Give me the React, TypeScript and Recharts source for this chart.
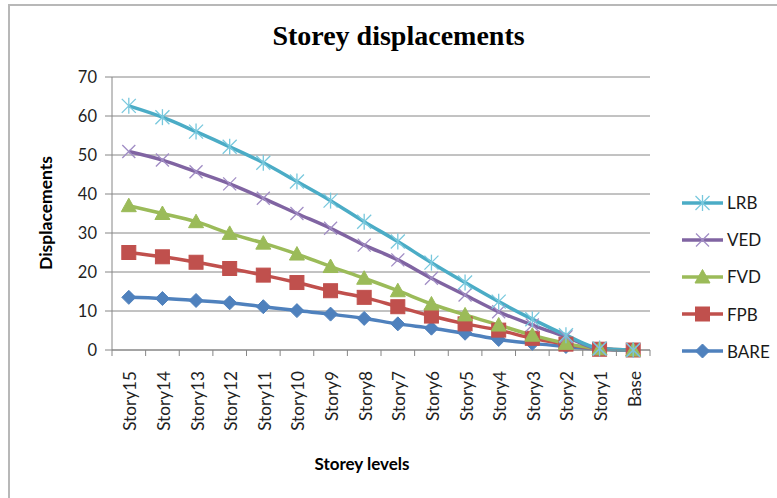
import React from 'react';
import { LineChart, Line, XAxis, YAxis, CartesianGrid } from 'recharts';

const categories = ['Story15', 'Story14', 'Story13', 'Story12', 'Story11', 'Story10', 'Story9', 'Story8', 'Story7', 'Story6', 'Story5', 'Story4', 'Story3', 'Story2', 'Story1', 'Base'];
const lrb = [62.6, 59.7, 56.0, 52.1, 48.0, 43.2, 38.3, 32.9, 27.8, 22.4, 17.3, 12.4, 7.9, 3.8, 0.4, 0];
const ved = [50.9, 48.7, 45.7, 42.6, 38.9, 35.0, 31.2, 26.9, 23.1, 18.4, 14.1, 9.8, 6.4, 3.4, 0.3, 0];
const fvd = [37.0, 35.0, 32.9, 29.9, 27.4, 24.6, 21.4, 18.4, 15.2, 11.8, 9.0, 6.4, 3.8, 1.7, 0.3, 0];
const fpb = [25.0, 23.9, 22.5, 20.9, 19.2, 17.3, 15.2, 13.5, 11.1, 8.7, 6.7, 5.1, 3.0, 1.5, 0.2, 0];
const bare = [13.5, 13.2, 12.7, 12.1, 11.1, 10.1, 9.2, 8.1, 6.7, 5.6, 4.3, 2.7, 1.7, 0.9, 0.2, 0];
const yTicks = [0, 10, 20, 30, 40, 50, 60, 70];

const data = categories.map((c, i) => ({
  name: c,
  LRB: lrb[i],
  VED: ved[i],
  FVD: fvd[i],
  FPB: fpb[i],
  BARE: bare[i],
}));

const FONT = 'Lato, "Open Sans", sans-serif';
const GRID = '#868686';
const HALF_STEP = 16.8;

const C = {
  LRB: '#4BACC6',
  VED: '#8064A2',
  FVD: '#9BBB59',
  FPB: '#C0504D',
  BARE: '#4F81BD',
};

type MarkerKind = 'star' | 'x' | 'tri' | 'sq' | 'dia';

const Marker = ({ kind, cx, cy }: { kind: MarkerKind; cx: number; cy: number }) => {
  if (kind === 'dia') {
    const r = 7;
    return <path d={`M${cx},${cy - r}L${cx + r},${cy}L${cx},${cy + r}L${cx - r},${cy}Z`} fill={C.BARE} stroke={C.BARE} strokeWidth={1} />;
  }
  if (kind === 'sq') {
    const r = 7;
    return <rect x={cx - r} y={cy - r} width={2 * r} height={2 * r} fill={C.FPB} stroke={C.FPB} strokeWidth={1} />;
  }
  if (kind === 'tri') {
    const r = 7.5;
    return <path d={`M${cx},${cy - r}L${cx + r},${cy + r * 0.8}L${cx - r},${cy + r * 0.8}Z`} fill={C.FVD} stroke={C.FVD} strokeWidth={1} />;
  }
  if (kind === 'x') {
    const r = 6.5;
    return (
      <g stroke="#A08CC4" strokeWidth={1.3}>
        <line x1={cx - r} y1={cy - r} x2={cx + r} y2={cy + r} />
        <line x1={cx - r} y1={cy + r} x2={cx + r} y2={cy - r} />
      </g>
    );
  }
  const r = 7;
  return (
    <g stroke="#78C8DD" strokeWidth={1.3}>
      <line x1={cx - r} y1={cy - r} x2={cx + r} y2={cy + r} />
      <line x1={cx - r} y1={cy + r} x2={cx + r} y2={cy - r} />
      <line x1={cx} y1={cy - r - 1} x2={cx} y2={cy + r + 1} />
    </g>
  );
};

const makeDot = (kind: MarkerKind) => (props: any) => {
  const { cx, cy, index } = props;
  if (cx == null || cy == null) return <g key={`${kind}-${index}`} />;
  return (
    <g key={`${kind}-${index}`}>
      <Marker kind={kind} cx={cx} cy={cy} />
    </g>
  );
};

const XTick = (props: any) => {
  const { x, y, payload, index } = props;
  const isLast = index === categories.length - 1;
  return (
    <g>
      <line x1={x - HALF_STEP} x2={x - HALF_STEP} y1={y} y2={y + 6} stroke={GRID} strokeWidth={1} />
      {isLast && <line x1={x + HALF_STEP} x2={x + HALF_STEP} y1={y} y2={y + 6} stroke={GRID} strokeWidth={1} />}
      <text
        transform={`translate(${x + 1},${y + 21}) rotate(-90)`}
        textAnchor="end"
        dominantBaseline="central"
        fontFamily={FONT}
        fontSize={17.2}
        fill="#1f1f1f"
      >
        {payload.value}
      </text>
    </g>
  );
};

const legendItems: { key: keyof typeof C; kind: MarkerKind }[] = [
  { key: 'LRB', kind: 'star' },
  { key: 'VED', kind: 'x' },
  { key: 'FVD', kind: 'tri' },
  { key: 'FPB', kind: 'sq' },
  { key: 'BARE', kind: 'dia' },
];

const LegendBox = () => (
  <div style={{ position: 'absolute', left: 680, top: 184, fontFamily: FONT, fontSize: 17, color: '#1a1a1a' }}>
    {legendItems.map((it) => (
      <div key={it.key} style={{ display: 'flex', alignItems: 'center', height: 37.2 }}>
        <svg width={46} height={20} style={{ display: 'block' }}>
          <line x1={2} x2={43} y1={10} y2={10} stroke={C[it.key]} strokeWidth={3.5} />
          <Marker kind={it.kind} cx={22.5} cy={10} />
        </svg>
        <span style={{ marginLeft: 1 }}>{it.key}</span>
      </div>
    ))}
  </div>
);

export default function App() {
  return (
    <div style={{ position: 'fixed', left: 0, top: 0, width: 777, height: 498, overflow: 'hidden', background: '#fff' }}>
      <div
        style={{
          position: 'absolute',
          left: 8,
          top: 4,
          width: 769,
          height: 494,
          borderLeft: '2px solid #b8b8b8',
          borderTop: '2px solid #b8b8b8',
          boxSizing: 'border-box',
        }}
      />
      <div
        style={{
          position: 'absolute',
          left: 0,
          width: 797,
          top: 20,
          textAlign: 'center',
          fontFamily: '"Liberation Serif", "Times New Roman", serif',
          fontWeight: 'bold',
          fontSize: 28,
          color: '#000',
        }}
      >
        Storey displacements
      </div>
      <div
        style={{
          position: 'absolute',
          left: 45,
          top: 213,
          transform: 'translate(-50%, -50%) rotate(-90deg)',
          fontFamily: FONT,
          fontWeight: 'bold',
          fontSize: 17.5,
          color: '#000',
          whiteSpace: 'nowrap',
        }}
      >
        Displacements
      </div>
      <div
        style={{
          position: 'absolute',
          left: 362,
          top: 463,
          transform: 'translate(-50%, -50%)',
          fontFamily: FONT,
          fontWeight: 'bold',
          fontSize: 17,
          color: '#000',
          whiteSpace: 'nowrap',
        }}
      >
        Storey levels
      </div>
      <div style={{ position: 'absolute', left: 0, top: 0 }}>
        <LineChart width={777} height={498} data={data} margin={{ top: 77, right: 127, left: 42, bottom: 28 }}>
          <CartesianGrid vertical={false} stroke={GRID} strokeWidth={1} />
          <XAxis
            dataKey="name"
            interval={0}
            padding={{ left: HALF_STEP, right: HALF_STEP }}
            axisLine={{ stroke: GRID, strokeWidth: 1 }}
            tickLine={false}
            tickSize={0}
            tickMargin={0}
            height={120}
            tick={<XTick />}
          />
          <YAxis
            domain={[0, 70]}
            ticks={yTicks}
            interval={0}
            width={70}
            axisLine={{ stroke: GRID, strokeWidth: 1 }}
            tickLine={{ stroke: GRID, strokeWidth: 1 }}
            tickSize={7}
            tickMargin={8}
            tick={{ fontFamily: FONT, fontSize: 16.5, fill: '#1f1f1f' }}
          />
          <Line type="monotone" dataKey="BARE" stroke={C.BARE} strokeWidth={3.5} dot={makeDot('dia')} activeDot={false} isAnimationActive={false} />
          <Line type="monotone" dataKey="FPB" stroke={C.FPB} strokeWidth={3.5} dot={makeDot('sq')} activeDot={false} isAnimationActive={false} />
          <Line type="monotone" dataKey="FVD" stroke={C.FVD} strokeWidth={3.5} dot={makeDot('tri')} activeDot={false} isAnimationActive={false} />
          <Line type="monotone" dataKey="VED" stroke={C.VED} strokeWidth={3.5} dot={makeDot('x')} activeDot={false} isAnimationActive={false} />
          <Line type="monotone" dataKey="LRB" stroke={C.LRB} strokeWidth={3.5} dot={makeDot('star')} activeDot={false} isAnimationActive={false} />
        </LineChart>
      </div>
      <LegendBox />
    </div>
  );
}
